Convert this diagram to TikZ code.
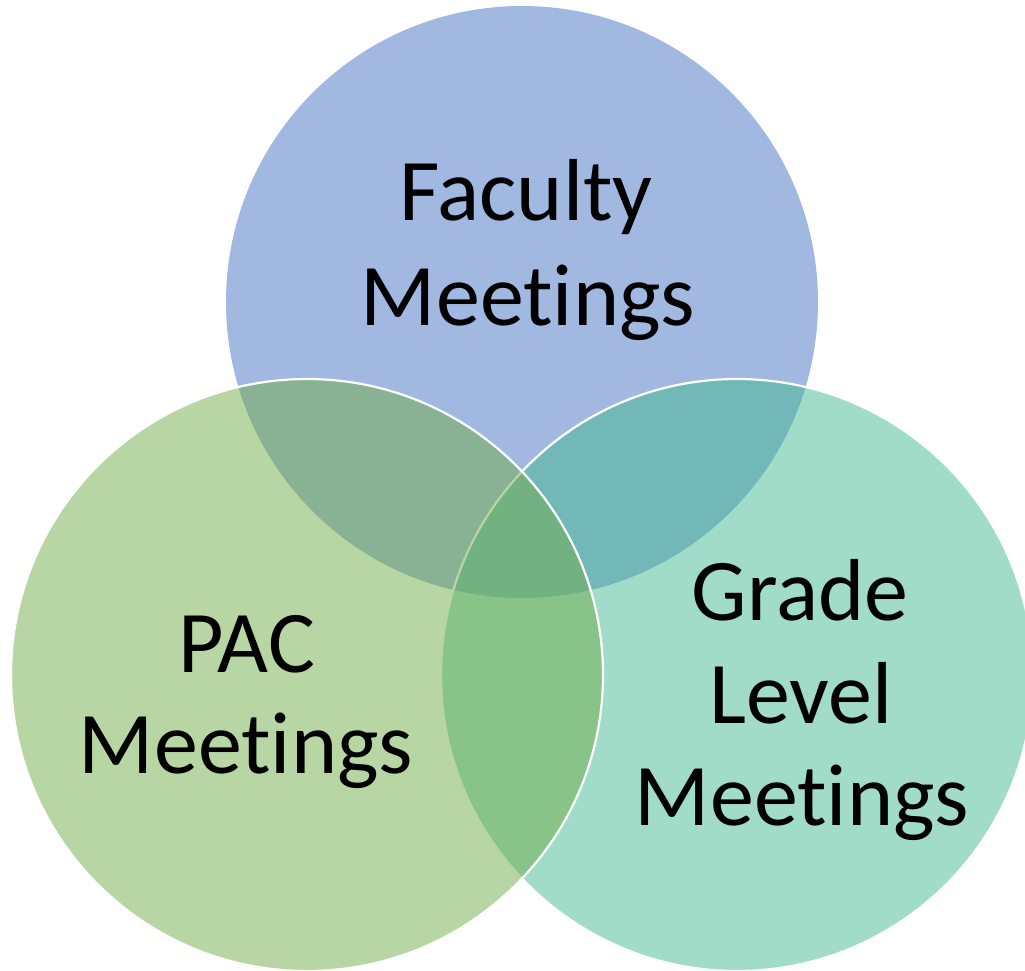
\documentclass[tikz,border=0pt]{standalone}
\usepackage{fontspec}
\setmainfont[Ligatures={NoCommon,NoContextual}]{Carlito}
\newcommand{\mtg}{Meet\kern0pt ings}
\definecolor{topblue}{RGB}{68,114,196}
\definecolor{rightteal}{RGB}{68,185,145}
\definecolor{leftgreen}{RGB}{112,173,71}
\tikzset{
  venn/.style={fill opacity=0.5, draw opacity=1},
  lbl/.style={anchor=base, inner sep=0pt, font=\fontsize{88}{100}\selectfont, text=black}
}
\begin{document}
\begin{tikzpicture}[x=1pt,y=-1pt]
\useasboundingbox (0,0) rectangle (1025,971);
\clip (0,0) rectangle (1025,971);
\fill[venn, topblue] (522,302) circle (296);
\filldraw[venn, fill=rightteal, draw=white, line width=2.2pt] (737,675) circle (296);
\filldraw[venn, fill=leftgreen, draw=white, line width=2.2pt] (307,675) circle (296);
\node[lbl] (fac1) at (526,220) {Faculty};
\node[lbl] (fac2) at (528,325) {\mtg};
\node[lbl] (pac1) at (247,672) {PAC};
\node[lbl] (pac2) at (246,773) {\mtg};
\node[lbl] (gr1) at (800,620) {Grade};
\node[lbl] (gr2) at (801,723) {Level};
\node[lbl] (gr3) at (802,825) {\mtg};
\end{tikzpicture}
\end{document}
